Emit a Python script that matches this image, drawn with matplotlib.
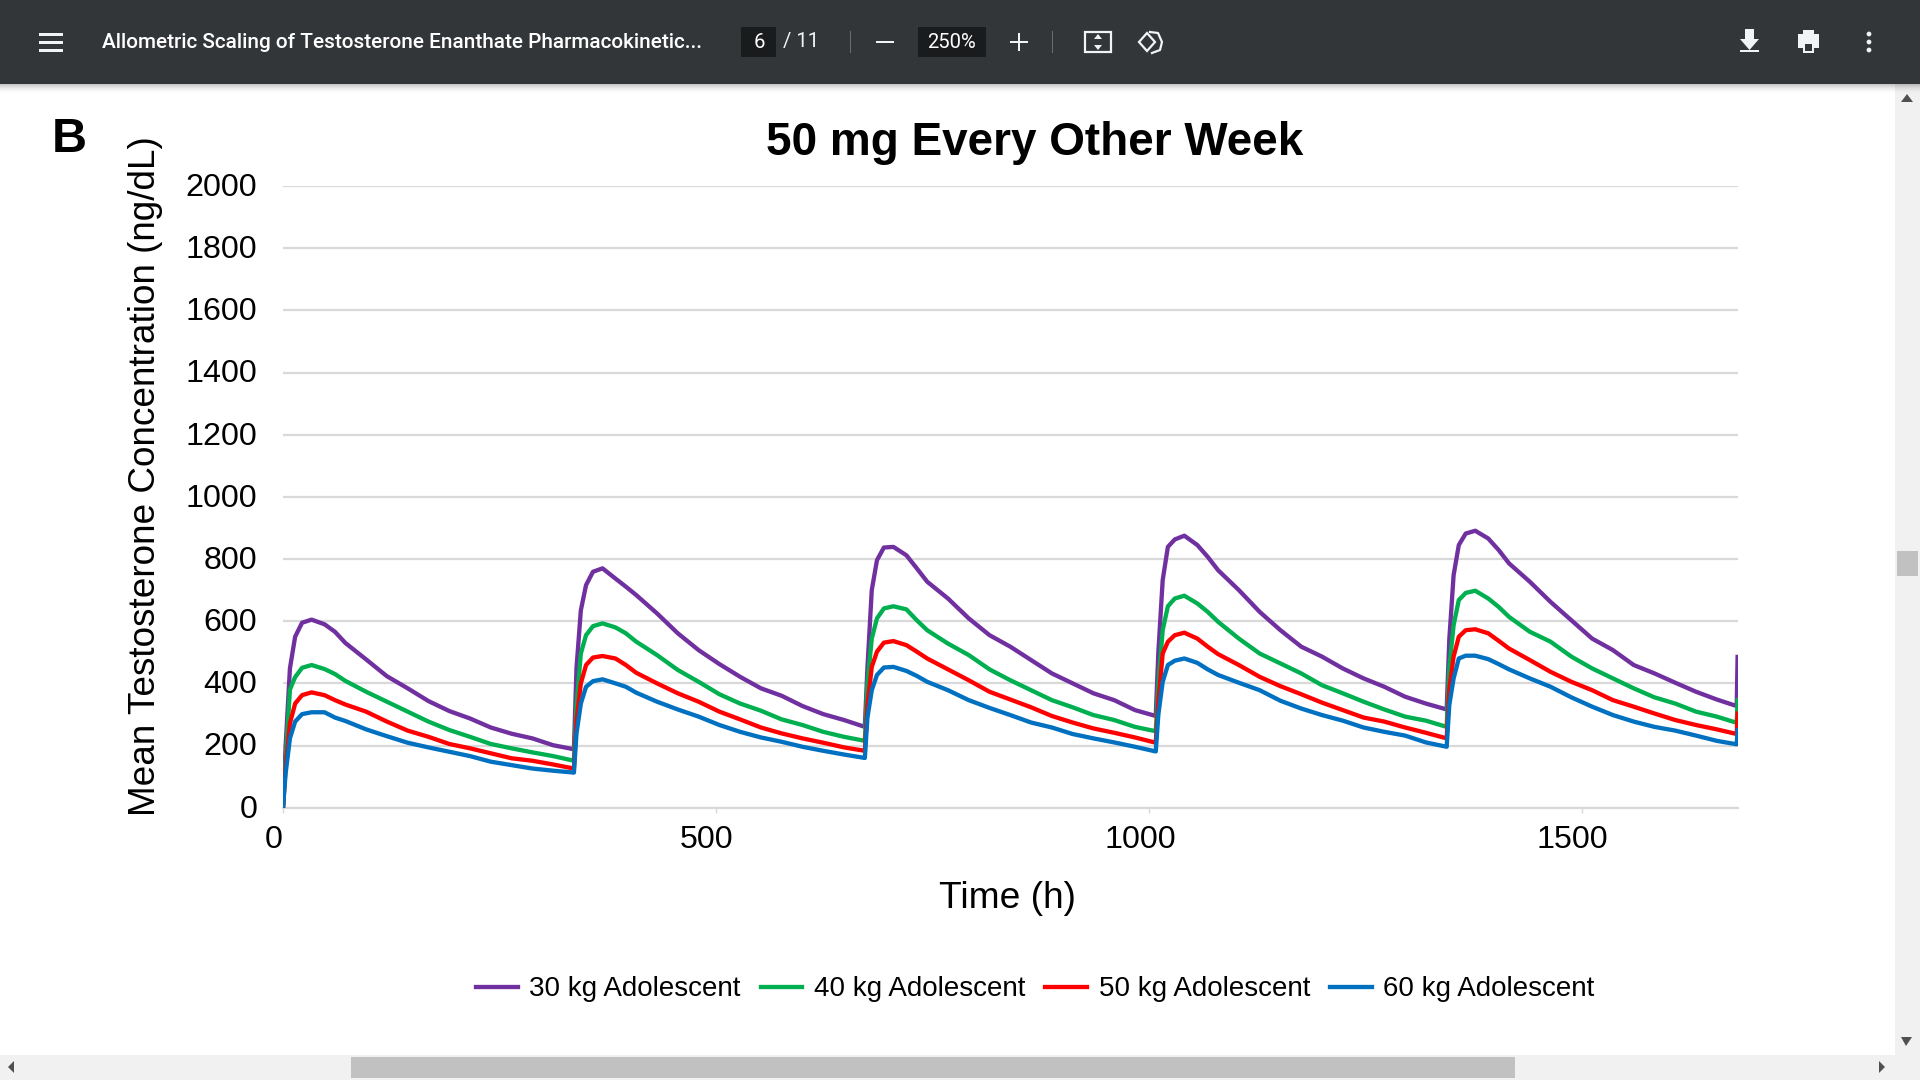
import matplotlib
matplotlib.use("Agg")
import matplotlib.pyplot as plt
from matplotlib.patches import Rectangle, Polygon, Circle
from matplotlib.transforms import ScaledTranslation

plt.rcParams['font.family'] = ['Liberation Sans', 'DejaVu Sans']

hours = [0,
         3, 8, 14, 22, 33, 48, 60, 72, 96, 120, 144, 168, 192, 216, 240, 264, 288, 312, 336,
         339, 344, 350, 358, 369, 384, 396, 408, 432, 456, 480, 504, 528, 552, 576, 600, 624, 648, 672,
         675, 680, 686, 694, 705, 720, 732, 744, 768, 792, 816, 840, 864, 888, 912, 936, 960, 984, 1008,
         1011, 1016, 1022, 1030, 1041, 1056, 1068, 1080, 1104, 1128, 1152, 1176, 1200, 1224, 1248, 1272, 1296, 1320, 1344,
         1347, 1352, 1358, 1366, 1377, 1392, 1404, 1416, 1440, 1464, 1488, 1512, 1536, 1560, 1584, 1608, 1632, 1656, 1679,
         1680]

kg30 = [0,
        196, 448, 550, 595, 605, 590, 566, 530, 477, 423, 384, 343, 311, 287, 258, 238, 223, 201, 188,
        450, 635, 716, 759, 770, 737, 711, 684, 625, 561, 507, 462, 421, 384, 360, 327, 301, 282, 260,
        450, 700, 796, 837, 839, 812, 770, 727, 673, 609, 555, 518, 475, 432, 400, 368, 346, 314, 295,
        500, 732, 839, 863, 875, 845, 807, 764, 700, 630, 571, 518, 486, 448, 416, 389, 357, 335, 316,
        540, 748, 845, 882, 891, 866, 829, 786, 727, 662, 603, 544, 507, 459, 432, 402, 373, 348, 327,
        485]
kg40 = [0,
        150, 380, 420, 450, 459, 446, 430, 408, 373, 341, 309, 277, 250, 228, 205, 191, 178, 166, 151,
        330, 496, 555, 584, 593, 580, 561, 534, 491, 443, 405, 365, 335, 312, 284, 266, 244, 228, 215,
        400, 544, 609, 641, 648, 638, 603, 571, 528, 491, 445, 410, 378, 346, 323, 298, 282, 260, 246,
        400, 571, 648, 673, 682, 657, 630, 598, 544, 496, 464, 432, 394, 368, 341, 316, 293, 280, 260,
        450, 587, 668, 691, 698, 673, 646, 614, 566, 534, 486, 448, 416, 384, 355, 335, 309, 293, 273,
        346]
kg50 = [0,
        130, 271, 335, 362, 371, 362, 346, 332, 309, 277, 248, 228, 205, 191, 175, 159, 151, 139, 126,
        280, 400, 459, 483, 488, 480, 459, 434, 400, 368, 341, 309, 284, 258, 239, 223, 209, 194, 183,
        330, 453, 502, 531, 536, 523, 502, 480, 445, 410, 373, 348, 323, 295, 274, 255, 241, 226, 209,
        340, 496, 534, 555, 563, 544, 518, 494, 459, 421, 391, 365, 338, 314, 290, 277, 258, 241, 223,
        380, 486, 550, 571, 574, 561, 537, 512, 475, 437, 405, 378, 346, 325, 303, 282, 266, 252, 237,
        303]
kg60 = [0,
        110, 223, 277, 301, 307, 307, 290, 279, 252, 230, 209, 194, 180, 166, 148, 137, 126, 119, 113,
        240, 335, 389, 407, 413, 400, 389, 370, 341, 316, 293, 266, 244, 226, 212, 196, 183, 171, 160,
        290, 378, 427, 451, 453, 440, 424, 405, 378, 346, 321, 298, 274, 258, 237, 223, 210, 196, 181,
        300, 405, 459, 473, 480, 466, 445, 427, 402, 378, 344, 319, 298, 280, 258, 244, 232, 210, 196,
        330, 416, 480, 489, 489, 478, 462, 445, 416, 389, 355, 325, 298, 277, 260, 248, 232, 215, 204,
        250]

series = [kg30, kg40, kg50, kg60]
names = ['30 kg Adolescent', '40 kg Adolescent', '50 kg Adolescent', '60 kg Adolescent']
colors = ['#7030a0', '#00b050', '#ff0000', '#0070c0']
yticks = [0, 200, 400, 600, 800, 1000, 1200, 1400, 1600, 1800, 2000]
xticks = [0, 500, 1000, 1500]

W, H = 1920, 1080
fig = plt.figure(figsize=(W/100, H/100), dpi=100, facecolor='white')

# browser viewer around the chart, in pixels
ui = fig.add_axes([0, 0, 1, 1], zorder=0)
ui.set_xlim(0, W)
ui.set_ylim(H, 0)
ui.axis('off')

def box(x0, y0, x1, y1, c, **kw):
    ui.add_patch(Rectangle((x0, y0), x1-x0, y1-y0, facecolor=c, edgecolor='none', **kw))

dark = '#323639'
box(0, 0, W, 84, dark, zorder=3)
for i in range(10):
    box(0, 84+i, W, 85+i, 'k', alpha=0.22*(1-i/10)**2, zorder=2)

# scrollbars
box(1895, 84, W, H, '#f1f1f1')
box(0, 1055, W, H, '#f1f1f1')
box(1897, 551, 1918, 576, '#c1c1c1')
box(351, 1057, 1515, 1078, '#c1c1c1')
for pts in ([(1901, 102), (1913, 102), (1907, 94)],
            [(1901, 1037), (1912, 1037), (1906, 1046)],
            [(14, 1061), (14, 1073), (8, 1067)],
            [(1879, 1061), (1879, 1073), (1885, 1067)]):
    ui.add_patch(Polygon(pts, facecolor='#505050', edgecolor='none'))

# toolbar
white = '#f1f3f4'
for y in (33, 41, 49):
    box(39, y, 63, y+3, white, zorder=4)
ui.text(102, 43, 'Allometric Scaling of Testosterone Enanthate Pharmacokinetic...',
        color='white', fontsize=14.95, family='Roboto', weight='medium', va='center', zorder=4)
box(741, 27, 776, 57, '#191b1c', zorder=4)
ui.text(759, 43, '6', color='white', fontsize=14.6, family='Roboto', ha='center', va='center', zorder=5)
ui.text(783, 42, '/ 11', color=white, fontsize=14.6, family='Roboto', va='center', zorder=4)
box(850, 31, 851, 53, '#6a6d70', zorder=4)
box(876, 41, 894, 43, white, zorder=4)
box(918, 27, 986, 57, '#191b1c', zorder=4)
ui.text(952, 43, '250%', color='white', fontsize=14.6, family='Roboto', ha='center', va='center', zorder=5)
box(1010, 41, 1028, 43, white, zorder=4)
box(1018, 33, 1020, 51, white, zorder=4)
box(1052, 31, 1053, 53, '#6a6d70', zorder=4)

# fit to page icon
ui.add_patch(Rectangle((1085, 32), 26, 20, facecolor='none', edgecolor=white, lw=1.6, zorder=4))
ui.add_patch(Polygon([(1094, 39), (1102, 39), (1098, 34)], facecolor=white, zorder=4))
ui.add_patch(Polygon([(1094, 45), (1102, 45), (1098, 50)], facecolor=white, zorder=4))
# rotate icon
ui.add_patch(Polygon([(1139, 42), (1147, 33), (1155, 42), (1147, 51)], facecolor='none',
                     edgecolor=white, lw=1.6, zorder=4))
ui.plot([1150, 1158, 1162, 1160, 1152], [32, 33, 42, 50, 53], color=white, lw=1.6, zorder=4)
# download icon
box(1745, 29, 1754, 40, white, zorder=4)
ui.add_patch(Polygon([(1740, 39), (1759, 39), (1749.5, 50)], facecolor=white, zorder=4))
box(1740, 50, 1759, 52, white, zorder=4)
# print icon
box(1798, 34, 1819, 48, white, zorder=4)
box(1803, 30, 1814, 34, white, zorder=4)
box(1803, 44, 1814, 53, white, zorder=4)
box(1805, 44, 1812, 51, dark, zorder=5)
for y in (34, 42, 50):
    ui.add_patch(Circle((1869, y), 2.4, facecolor=white, edgecolor='none', zorder=4))

ui.text(52, 152, 'B', fontsize=35, weight='bold', color='k', ha='left', va='baseline')

# chart
ax = fig.add_axes([283/W, 1-807.7/H, 1454.6/W, 621.7/H], zorder=1)
ax.patch.set_alpha(0)
for s, name, c in zip(series, names, colors):
    ax.plot(hours, s, color=c, lw=3.1, label=name, solid_joinstyle='round', zorder=3)

ax.set_xlim(0, 1680)
ax.set_ylim(0, 2000)
ax.set_xticks(xticks)
ax.set_yticks(yticks)
ax.grid(axis='y', color='#d9d9d9', lw=1.6, zorder=1)
ax.set_axisbelow(True)
for side in ('top', 'right', 'left'):
    ax.spines[side].set_visible(False)
ax.spines['bottom'].set_color('#d9d9d9')
ax.spines['bottom'].set_linewidth(1.6)
ax.tick_params(axis='y', length=0, pad=18.5, labelsize=23.2)
ax.tick_params(axis='x', length=3.6, width=1, color='#d9d9d9', pad=8.6, labelsize=23.2)
for lab in ax.get_xticklabels():
    lab.set_transform(lab.get_transform() + ScaledTranslation(-9/100, 0, fig.dpi_scale_trans))
for lab in ax.get_yticklabels():
    lab.set_transform(lab.get_transform() + ScaledTranslation(0, 1.6/100, fig.dpi_scale_trans))

ax.set_title('50 mg Every Other Week', fontsize=33, weight='bold', x=0.517, y=1.05, pad=0)
ax.set_xlabel('Time (h)', fontsize=26.7, va='center')
ax.xaxis.set_label_coords(0.498, -0.146)
ax.set_ylabel('Mean Testosterone Concentration (ng/dL)', fontsize=26.6, va='center')
ax.yaxis.set_label_coords(-0.0945, 0.533)

fig.legend(loc='center left', bbox_to_anchor=(476/W, 1-989.5/H), ncols=4, frameon=False,
           fontsize=20, borderpad=0, borderaxespad=0, handlelength=1.5,
           handletextpad=0.42, columnspacing=0.72)

fig.savefig('out.png', dpi=100)
